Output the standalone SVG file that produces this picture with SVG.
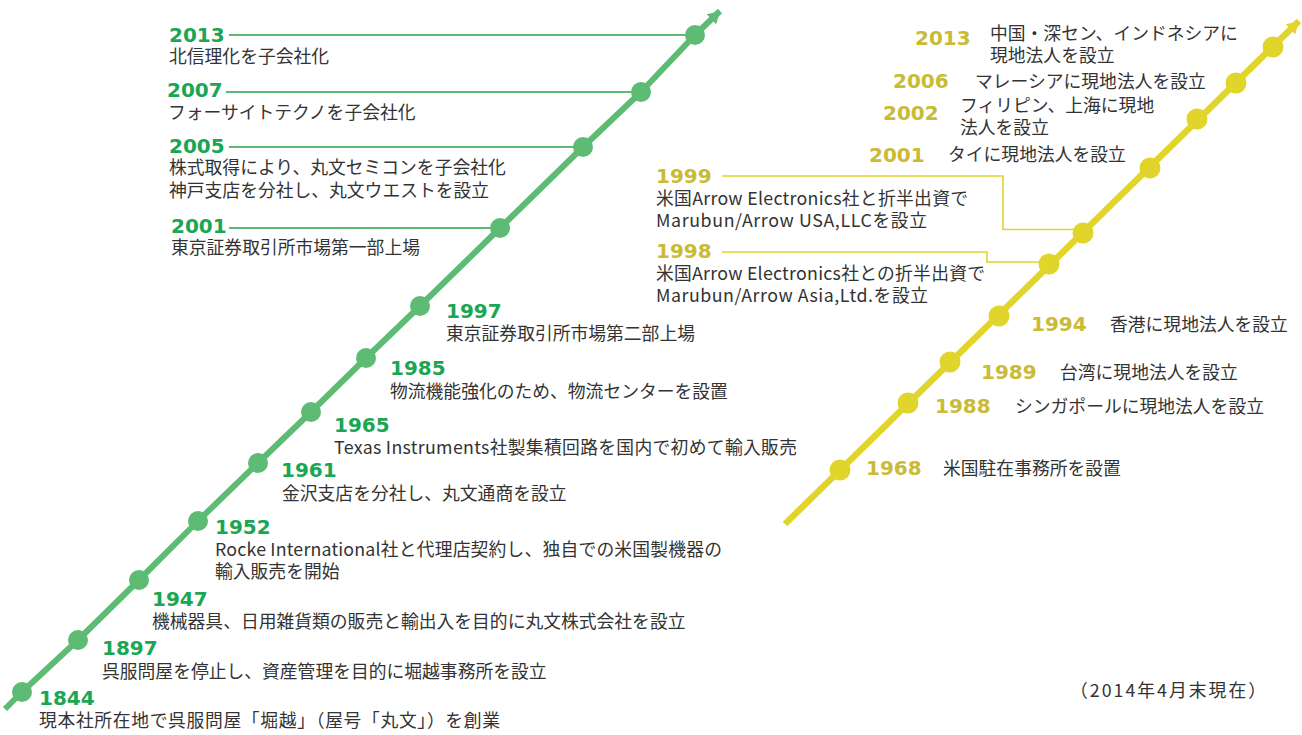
<svg xmlns="http://www.w3.org/2000/svg" width="1302" height="735" viewBox="0 0 1302 735">
<style>
.yg{font-family:"DejaVu Sans",Verdana,sans-serif;font-weight:bold;font-size:20px;fill:#1aa652}
.yy{font-family:"DejaVu Sans",Verdana,sans-serif;font-weight:bold;font-size:20px;fill:#c9bb35}
.t{font-family:"Noto Sans CJK JP",sans-serif;font-size:17.8px;fill:#333333}
.gl{stroke:#5dbb73;stroke-width:6;fill:none;stroke-linejoin:round}
.yl{stroke:#e1d52b;stroke-width:6.5;fill:none}
.gd{fill:#5dbb73}
.yd{fill:#e1d52b}
.gc{stroke:#5dbb73;stroke-width:2;fill:none}
.yc{stroke:#e1d52b;stroke-width:1.6;fill:none}
</style>
<defs>
<marker id="ag" markerUnits="userSpaceOnUse" markerWidth="16" markerHeight="16" refX="12" refY="7" orient="auto"><path d="M0,0 L12,7 L0,14 Z" fill="#5dbb73"/></marker>
<marker id="ay" markerUnits="userSpaceOnUse" markerWidth="16" markerHeight="16" refX="12" refY="7" orient="auto"><path d="M0,0 L12,7 L0,14 Z" fill="#e1d52b"/></marker>
</defs>
<rect width="1302" height="735" fill="#ffffff"/>
<g id="timelines">
<polyline class="gl" points="5,709 22,692 78,640 139,580 198,521 258,463 311,412 366,358 420,306 500,228 583,147 641,92 695,35 720,11" marker-end="url(#ag)"/>
<line class="yl" x1="785" y1="524" x2="1299" y2="21" marker-end="url(#ay)"/>
</g>
<g id="connectors">
<line class="gc" x1="229" y1="35" x2="695" y2="35"/>
<line class="gc" x1="226" y1="92" x2="641" y2="92"/>
<line class="gc" x1="229" y1="147" x2="583" y2="147"/>
<line class="gc" x1="229" y1="228" x2="500" y2="228"/>
<polyline class="yc" points="722,176 1003,176 1003,229.5 1083,229.5"/>
<polyline class="yc" points="722,252 987,252 987,262 1049,262"/>
</g>
<g id="g2013"><circle class="gd" cx="695" cy="35" r="10"/><text class="yg" x="169" y="42">2013</text><text class="t" x="169" y="63">北信理化を子会社化</text></g>
<g id="g2007"><circle class="gd" cx="641" cy="92" r="10"/><text class="yg" x="167" y="97">2007</text><text class="t" x="168" y="119">フォーサイトテクノを子会社化</text></g>
<g id="g2005"><circle class="gd" cx="583" cy="147" r="10"/><text class="yg" x="169" y="153">2005</text><text class="t" x="169" y="174">株式取得により、丸文セミコンを子会社化</text><text class="t" x="169" y="197">神戸支店を分社し、丸文ウエストを設立</text></g>
<g id="g2001"><circle class="gd" cx="500" cy="228" r="10"/><text class="yg" x="171" y="233">2001</text><text class="t" x="171" y="254">東京証券取引所市場第一部上場</text></g>
<g id="g1997"><circle class="gd" cx="420" cy="306" r="10"/><text class="yg" x="446" y="318">1997</text><text class="t" x="446" y="340">東京証券取引所市場第二部上場</text></g>
<g id="g1985"><circle class="gd" cx="366" cy="358" r="10"/><text class="yg" x="390" y="375">1985</text><text class="t" x="390" y="398">物流機能強化のため、物流センターを設置</text></g>
<g id="g1965"><circle class="gd" cx="311" cy="412" r="10"/><text class="yg" x="334" y="432">1965</text><text class="t" x="334" y="454" textLength="463">Texas Instruments社製集積回路を国内で初めて輸入販売</text></g>
<g id="g1961"><circle class="gd" cx="258" cy="463" r="10"/><text class="yg" x="281" y="477">1961</text><text class="t" x="282" y="500">金沢支店を分社し、丸文通商を設立</text></g>
<g id="g1952"><circle class="gd" cx="198" cy="521" r="10"/><text class="yg" x="215" y="534">1952</text><text class="t" x="215" y="556" textLength="507">Rocke International社と代理店契約し、独自での米国製機器の</text><text class="t" x="215" y="578">輸入販売を開始</text></g>
<g id="g1947"><circle class="gd" cx="139" cy="580" r="10"/><text class="yg" x="152" y="606">1947</text><text class="t" x="152" y="628">機械器具、日用雑貨類の販売と輸出入を目的に丸文株式会社を設立</text></g>
<g id="g1897"><circle class="gd" cx="78" cy="640" r="10"/><text class="yg" x="102" y="655">1897</text><text class="t" x="102" y="678">呉服問屋を停止し、資産管理を目的に堀越事務所を設立</text></g>
<g id="g1844"><circle class="gd" cx="22" cy="692" r="10"/><text class="yg" x="39" y="705">1844</text><text class="t" x="39" y="727" textLength="461">現本社所在地で呉服問屋「堀越」（屋号「丸文」）を創業</text></g>
<g id="y2013"><circle class="yd" cx="1273" cy="47" r="10.5"/><text class="yy" x="915" y="45">2013</text><text class="t" x="990" y="40">中国・深セン、インドネシアに</text><text class="t" x="990" y="62">現地法人を設立</text></g>
<g id="y2006"><circle class="yd" cx="1236" cy="83" r="10.5"/><text class="yy" x="893" y="88">2006</text><text class="t" x="975" y="88">マレーシアに現地法人を設立</text></g>
<g id="y2002"><circle class="yd" cx="1197" cy="119" r="10.5"/><text class="yy" x="883" y="120">2002</text><text class="t" x="960" y="112">フィリピン、上海に現地</text><text class="t" x="960" y="134">法人を設立</text></g>
<g id="y2001"><circle class="yd" cx="1150" cy="168" r="10.5"/><text class="yy" x="869" y="162">2001</text><text class="t" x="948" y="161">タイに現地法人を設立</text></g>
<g id="y1999"><circle class="yd" cx="1083" cy="233" r="10.5"/><text class="yy" x="656" y="183">1999</text><text class="t" x="656" y="205" textLength="312">米国Arrow Electronics社と折半出資で</text><text class="t" x="656" y="227" textLength="271">Marubun/Arrow USA,LLCを設立</text></g>
<g id="y1998"><circle class="yd" cx="1049" cy="264" r="10.5"/><text class="yy" x="656" y="258">1998</text><text class="t" x="656" y="280" textLength="329">米国Arrow Electronics社との折半出資で</text><text class="t" x="656" y="302" textLength="272">Marubun/Arrow Asia,Ltd.を設立</text></g>
<g id="y1994"><circle class="yd" cx="999" cy="316" r="10.5"/><text class="yy" x="1031" y="331">1994</text><text class="t" x="1110" y="331">香港に現地法人を設立</text></g>
<g id="y1989"><circle class="yd" cx="950" cy="362" r="10.5"/><text class="yy" x="981" y="379">1989</text><text class="t" x="1060" y="379">台湾に現地法人を設立</text></g>
<g id="y1988"><circle class="yd" cx="908" cy="403" r="10.5"/><text class="yy" x="935" y="413">1988</text><text class="t" x="1015" y="413">シンガポールに現地法人を設立</text></g>
<g id="y1968"><circle class="yd" cx="840" cy="470" r="10.5"/><text class="yy" x="866" y="475">1968</text><text class="t" x="943" y="475">米国駐在事務所を設置</text></g>
<text class="t" x="1070" y="697" textLength="196">（2014年4月末現在）</text>
</svg>
